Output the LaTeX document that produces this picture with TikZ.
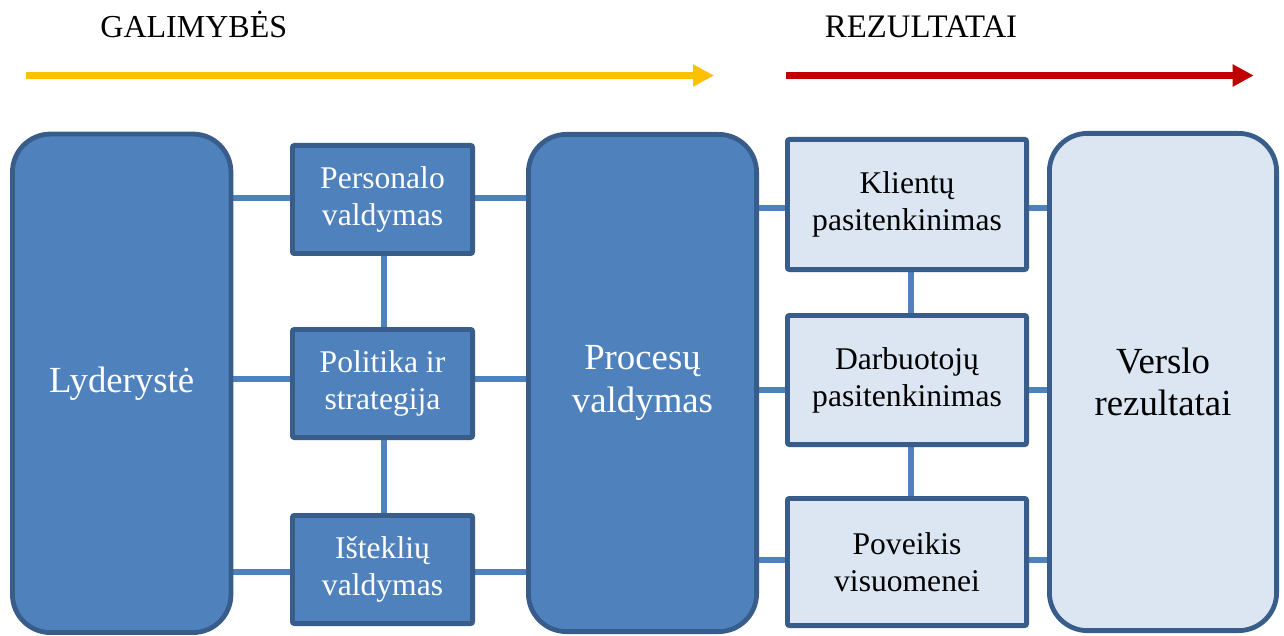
\documentclass[tikz,border=0pt]{standalone}
\usepackage{fontspec}
\setmainfont{Liberation Serif}
\usetikzlibrary{arrows.meta,backgrounds}
\definecolor{boxfill}{HTML}{4F81BD}
\definecolor{boxline}{HTML}{385D8A}
\definecolor{lightfill}{HTML}{DCE6F2}
\definecolor{linkblue}{HTML}{4F81BD}
\definecolor{goldline}{HTML}{FFC000}
\definecolor{redline}{HTML}{C00000}

\begin{document}
\begin{tikzpicture}[x=0.5pt,y=-0.5pt,
  bigbox/.style={draw=boxline, line width=2.4pt, rounded corners=19pt, inner sep=0pt,
    align=center, font=\fontsize{18.4}{21.4}\selectfont},
  smallbox/.style={draw=boxline, line width=2.4pt, rounded corners=1pt, inner sep=0pt,
    align=center, font=\fontsize{15.8}{18.4}\selectfont},
  darkbox/.style={fill=boxfill, text=white},
  lightbox/.style={fill=lightfill, text=black},
  link/.style={draw=linkblue, line width=3pt},
  header/.style={anchor=base, inner sep=0pt, font=\fontsize{16}{19}\selectfont},
  flow/.style={line width=3.5pt, -{Triangle[length=10.5pt,width=10.5pt]}}]

\useasboundingbox (0,0) rectangle (1284,636);

% headings and direction arrows
\node[header] (hgal) at (193.8,37.3) {GALIMYBĖS};
\node[header, font=\fontsize{16.4}{19}\selectfont] (hrez) at (921,37.3) {REZULTATAI};
\coordinate (ys) at (26,75.5);
\coordinate (ye) at (714,75.5);
\coordinate (rs) at (785.5,75.5);
\coordinate (re) at (1253.7,75.5);
\draw[flow, goldline] (ys) -- (ye);
\draw[flow, redline] (rs) -- (re);

% enablers
\node[bigbox, darkbox, minimum width=109.25pt, minimum height=249.25pt] (lyd) at (121.7,383.3) {Lyderystė};
\node[smallbox, darkbox, minimum width=90.1pt, minimum height=54.1pt] (pers) at (382.5,199.5) {Personalo\\valdymas};
\node[smallbox, darkbox, minimum width=90.1pt, minimum height=54.1pt] (pol) at (382.5,383.5) {Politika ir\\strategija};
\node[smallbox, darkbox, minimum width=90.1pt, minimum height=54.1pt] (ist) at (382.5,569.5) {Išteklių\\valdymas};
\node[bigbox, darkbox, minimum width=114.1pt, minimum height=248.6pt] (proc) at (642.5,383) {Procesų\\valdymas};

% results
\node[smallbox, lightbox, minimum width=119.6pt, minimum height=65.1pt] (kli) at (907,204.5) {Klientų\\pasitenkinimas};
\node[smallbox, lightbox, minimum width=119.6pt, minimum height=64.6pt] (darb) at (907,380) {Darbuotojų\\pasitenkinimas};
\node[smallbox, lightbox, minimum width=119.6pt, minimum height=63.6pt] (pov) at (907,562) {Poveikis\\visuomenei};
\node[bigbox, lightbox, minimum width=113.6pt, minimum height=248.6pt] (vers) at (1163,382) {Verslo\\rezultatai};

% rows and columns of the connectors
\coordinate (lr1) at (0,198);
\coordinate (lr2) at (0,379);
\coordinate (lr3) at (0,572);
\coordinate (rr1) at (0,208);
\coordinate (rr2) at (0,390);
\coordinate (rr3) at (0,560);
\coordinate (vl) at (384,0);
\coordinate (vr) at (911,0);

\begin{scope}[on background layer]
  \draw[link] (lyd.east |- lr1) -- (pers.west |- lr1);
  \draw[link] (pers.east |- lr1) -- (proc.west |- lr1);
  \draw[link] (lyd.east |- lr2) -- (pol.west |- lr2);
  \draw[link] (pol.east |- lr2) -- (proc.west |- lr2);
  \draw[link] (lyd.east |- lr3) -- (ist.west |- lr3);
  \draw[link] (ist.east |- lr3) -- (proc.west |- lr3);
  \draw[link] (pers.south -| vl) -- (pol.north -| vl);
  \draw[link] (pol.south -| vl) -- (ist.north -| vl);

  \draw[link] (proc.east |- rr1) -- (kli.west |- rr1);
  \draw[link] (kli.east |- rr1) -- (vers.west |- rr1);
  \draw[link] (proc.east |- rr2) -- (darb.west |- rr2);
  \draw[link] (darb.east |- rr2) -- (vers.west |- rr2);
  \draw[link] (proc.east |- rr3) -- (pov.west |- rr3);
  \draw[link] (pov.east |- rr3) -- (vers.west |- rr3);
  \draw[link] (kli.south -| vr) -- (darb.north -| vr);
  \draw[link] (darb.south -| vr) -- (pov.north -| vr);
\end{scope}
\end{tikzpicture}
\end{document}
